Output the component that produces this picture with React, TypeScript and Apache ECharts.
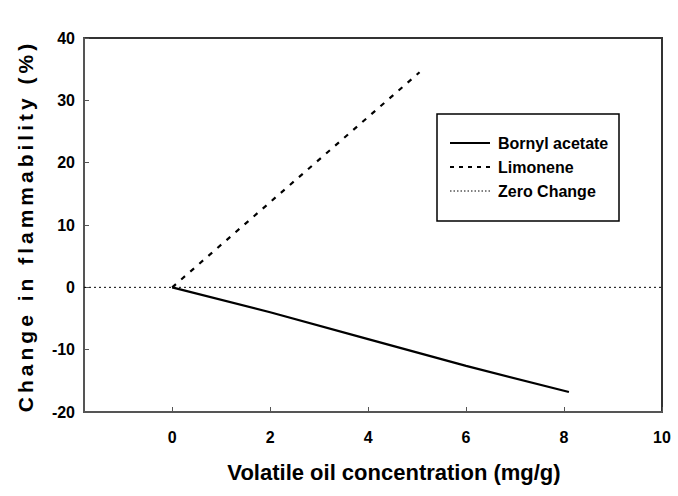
import React, { useEffect, useRef } from "react";
import * as echarts from "echarts";

const xTicks = [0, 2, 4, 6, 8, 10];
const bornylX = [0, 2, 4, 6, 8.1];
const bornylY = [0, -4.0, -8.3, -12.6, -16.8];
const limoneneX = [0, 5.05];
const limoneneY = [0, 34.5];
const zeroX = [-1.8, 10];
const zeroY = [0, 0];
const seriesNames = ["Bornyl acetate", "Limonene", "Zero Change"];
const xTitle = "Volatile oil concentration (mg/g)";
const yTitle = "Change in flammability (%)";

const FONT = "'Liberation Sans', Arial, sans-serif";

const pairs = (xs: number[], ys: number[]) => xs.map((x, i) => [x, ys[i]]);

export default function App() {
  const ref = useRef<HTMLDivElement>(null);
  useEffect(() => {
    if (!ref.current) return;
    const chart = echarts.init(ref.current, null, { renderer: "svg" });
    const legendTextStyle = { fontFamily: FONT, fontWeight: "bold", fontSize: 16, fill: "#000", verticalAlign: "middle", align: "left" };
    chart.setOption({
      animation: false,
      backgroundColor: "#fff",
      grid: { left: 84, right: 16, top: 38, bottom: 84, show: true, borderColor: "#333", borderWidth: 2, backgroundColor: "transparent" },
      xAxis: {
        type: "value",
        min: -1.8,
        max: 10,
        axisLine: { show: true, onZero: false, lineStyle: { color: "#555", width: 2 } },
        axisTick: { show: true, inside: true, length: 5, customValues: xTicks, lineStyle: { color: "#555", width: 1 } },
        axisLabel: { customValues: xTicks, fontFamily: FONT, fontWeight: "bold", fontSize: 16, color: "#000", margin: 17 },
        splitLine: { show: false },
      },
      yAxis: {
        type: "value",
        min: -20,
        max: 40,
        interval: 10,
        axisLine: { show: true, onZero: false, lineStyle: { color: "#555", width: 2 } },
        axisTick: { show: true, inside: true, length: 5, lineStyle: { color: "#555", width: 1 } },
        axisLabel: { fontFamily: FONT, fontWeight: "bold", fontSize: 16, color: "#000", margin: 9 },
        splitLine: { show: false },
      },
      series: [
        {
          name: seriesNames[0],
          type: "line",
          data: pairs(bornylX, bornylY),
          showSymbol: false,
          symbol: "none",
          lineStyle: { color: "#000", width: 2.2, type: "solid" },
          z: 3,
        },
        {
          name: seriesNames[1],
          type: "line",
          data: pairs(limoneneX, limoneneY),
          showSymbol: false,
          symbol: "none",
          lineStyle: { color: "#000", width: 2.2, type: [5, 7] },
          z: 3,
        },
        {
          name: seriesNames[2],
          type: "line",
          data: pairs(zeroX, zeroY),
          showSymbol: false,
          symbol: "none",
          lineStyle: { color: "#000", width: 1, type: [2, 3] },
          z: 2,
        },
      ],
      graphic: [
        {
          type: "text",
          x: 25,
          y: 226,
          rotation: Math.PI / 2,
          style: { text: yTitle, fontFamily: FONT, fontWeight: "bold", fontSize: 21, fill: "#000", align: "center", verticalAlign: "middle" },
        },
        {
          type: "text",
          x: 394,
          y: 472,
          style: { text: xTitle, fontFamily: FONT, fontWeight: "bold", fontSize: 22, fill: "#000", align: "center", verticalAlign: "middle" },
        },
        {
          type: "rect",
          shape: { x: 437, y: 114, width: 182, height: 107 },
          style: { fill: "#fff", stroke: "#000", lineWidth: 1.5 },
          z: 10,
        },
        { type: "line", shape: { x1: 450, y1: 143, x2: 490, y2: 143 }, style: { stroke: "#000", lineWidth: 2 }, z: 11 },
        { type: "line", shape: { x1: 450, y1: 167, x2: 490, y2: 167 }, style: { stroke: "#000", lineWidth: 2, lineDash: [4, 5] }, z: 11 },
        { type: "line", shape: { x1: 450, y1: 191, x2: 490, y2: 191 }, style: { stroke: "#000", lineWidth: 1, lineDash: [1.5, 2] }, z: 11 },
        { type: "text", x: 498, y: 143, style: { text: seriesNames[0], ...legendTextStyle }, z: 11 },
        { type: "text", x: 498, y: 167, style: { text: seriesNames[1], ...legendTextStyle }, z: 11 },
        { type: "text", x: 498, y: 191, style: { text: seriesNames[2], ...legendTextStyle }, z: 11 },
      ],
    });
    // letter spacing for the y-axis title, as in the reference
    const texts = ref.current.querySelectorAll("text");
    texts.forEach((t) => {
      if (t.textContent === yTitle) {
        (t as SVGTextElement).style.letterSpacing = "4px";
      }
    });
    return () => chart.dispose();
  }, []);
  return <div ref={ref} style={{ width: 678, height: 496, position: "absolute", left: 0, top: 0 }} />;
}
